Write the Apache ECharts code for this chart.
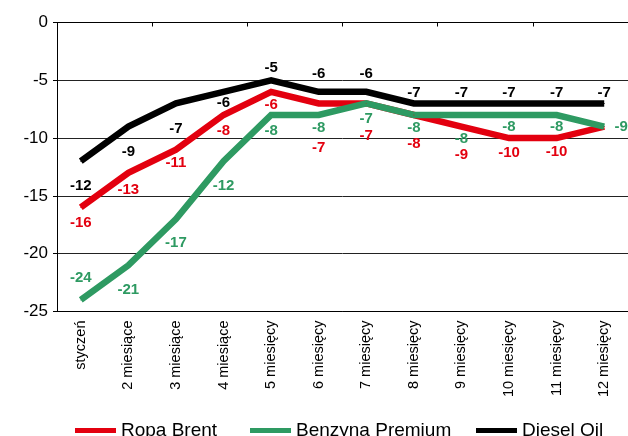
<!DOCTYPE html>
<html>
<head>
<meta charset="utf-8">
<script src="https://cdn.jsdelivr.net/npm/echarts@6/dist/echarts.min.js"></script>
<style>
  html, body { margin: 0; padding: 0; background: #fff; }
  #chart { width: 628px; height: 436px; }
</style>
</head>
<body>
<div id="chart"></div>
<script>
// Months ahead
const categories = ['styczeń', '2 miesiące', '3 miesiące', '4 miesiące', '5 miesięcy', '6 miesięcy',
  '7 miesięcy', '8 miesięcy', '9 miesięcy', '10 miesięcy', '11 miesięcy', '12 miesięcy'];

// Values per product
const ropaBrent      = [-16, -13, -11, -8, -6, -7, -7, -8, -9, -10, -10, -9];
const benzynaPremium = [-24, -21, -17, -12, -8, -8, -7, -8, -8, -8, -8, -9];
const dieselOil      = [-12, -9, -7, -6, -5, -6, -6, -7, -7, -7, -7, -7];

const yTicks = [0, -5, -10, -15, -20, -25];

// Label placement relative to each point (pixels), kept apart so lines don't hide them
const brentLabelOffsets   = [[0,15],[0,17],[0,13],[0,16],[0,13],[0,44],[0,32],[0,29],[0,28],[0,15],[0,14], null];
const benzynaLabelOffsets = [[0,-22],[0,25],[0,24],[0,25],[0,16],[0,13],[0,15],[0,13],[0,24],[0,12],[0,12],[17,0]];
const dieselLabelOffsets  = [[0,25],[0,25],[0,25],[0,11],[0,-12],[0,-18],[0,-18],[0,-11],[0,-11],[0,-11],[0,-11],[0,-11]];

const RED = '#E3000F', GREEN = '#2E9A62', BLACK = '#000000';
const FONT = 'Arial, "Liberation Sans", sans-serif';

function buildSeries(name, values, offsets, color) {
  return {
    name,
    type: 'line',
    xAxisIndex: 0,
    symbol: 'circle',
    symbolSize: 1,
    showSymbol: true,
    lineStyle: { color, width: 6.5, join: 'miter' },
    itemStyle: { color },
    emphasis: { disabled: true },
    label: {
      show: true,
      position: 'inside',
      color,
      fontFamily: FONT,
      fontWeight: 'bold',
      fontSize: 15,
      formatter: p => String(p.value)
    },
    data: values.map((v, i) => ({
      value: v,
      label: offsets[i] ? { offset: offsets[i] } : { show: false }
    }))
  };
}

function legendAt(left, name, color) {
  return {
    left, top: 416,
    data: [name],
    icon: 'rect',
    itemWidth: 41,
    itemHeight: 5,
    selectedMode: false,
    itemStyle: { color },
    textStyle: { fontFamily: FONT, fontSize: 19, color: '#000' }
  };
}

const chart = echarts.init(document.getElementById('chart'), null, { renderer: 'canvas' });
chart.setOption({
  animation: false,
  backgroundColor: '#fff',
  grid: { left: 57, top: 22.5, right: -9.4, bottom: 124.5, containLabel: false },
  legend: [
    legendAt(70, 'Ropa Brent', RED),
    legendAt(245, 'Benzyna Premium', GREEN),
    legendAt(471, 'Diesel Oil', BLACK)
  ],
  xAxis: [
    {
      type: 'category',
      data: categories,
      position: 'bottom',
      boundaryGap: true,
      axisLine: { show: true, onZero: false, lineStyle: { color: '#000', width: 1 } },
      axisTick: { show: false },
      axisLabel: { rotate: 90, margin: 9, fontFamily: FONT, fontSize: 14.5, color: '#000', interval: 0 }
    },
    {
      type: 'category',
      data: categories,
      position: 'top',
      boundaryGap: true,
      axisLine: { show: true, onZero: false, lineStyle: { color: '#000', width: 1 } },
      axisTick: { show: true, inside: true, length: 4, lineStyle: { color: '#000' } },
      axisLabel: { show: false }
    }
  ],
  yAxis: {
    type: 'value',
    min: yTicks[yTicks.length - 1],
    max: yTicks[0],
    interval: 5,
    axisLine: { show: true, lineStyle: { color: '#000', width: 1 } },
    axisTick: { show: true, length: 4, lineStyle: { color: '#000' } },
    axisLabel: { margin: 9, fontFamily: FONT, fontSize: 17, color: '#000' },
    splitLine: { show: true, lineStyle: { color: '#222', width: 1 } }
  },
  series: [
    buildSeries('Ropa Brent', ropaBrent, brentLabelOffsets, RED),
    buildSeries('Benzyna Premium', benzynaPremium, benzynaLabelOffsets, GREEN),
    buildSeries('Diesel Oil', dieselOil, dieselLabelOffsets, BLACK)
  ]
});
</script>
</body>
</html>
